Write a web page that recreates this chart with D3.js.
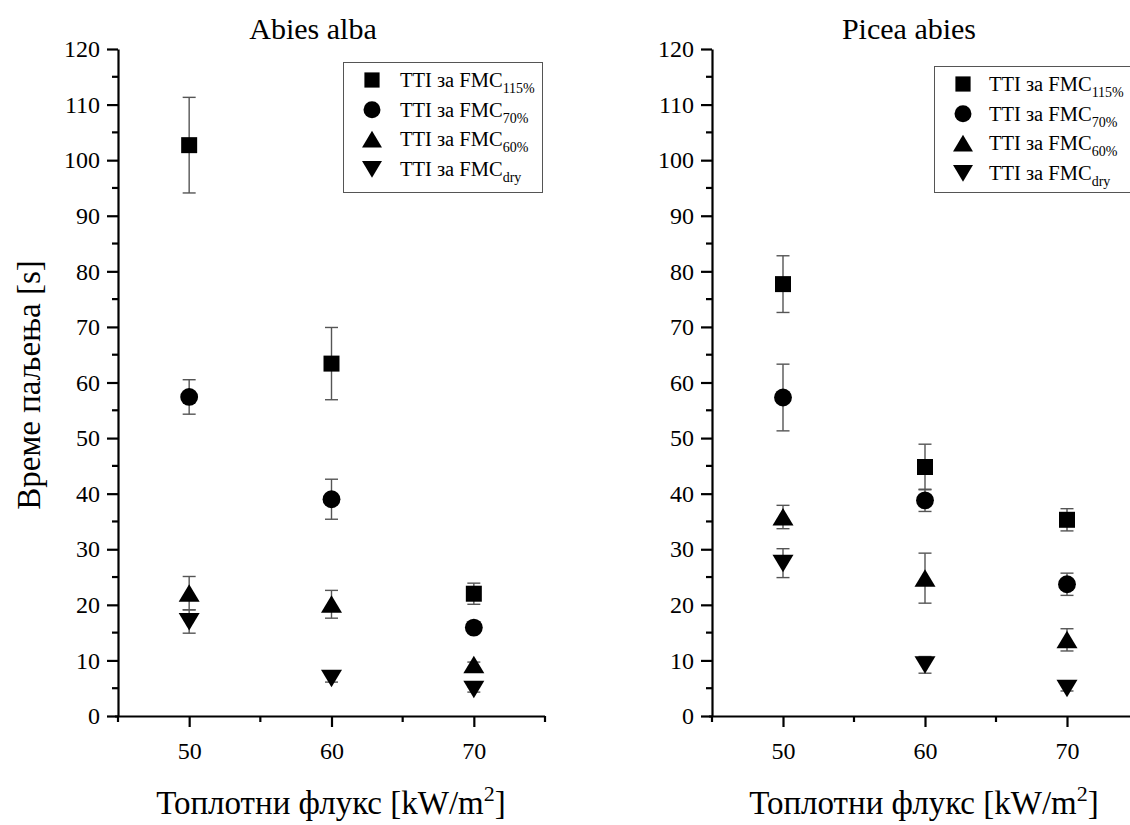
<!DOCTYPE html>
<html><head><meta charset="utf-8">
<script src="https://cdn.jsdelivr.net/npm/d3@7/dist/d3.min.js"></script>
<style>body{margin:0;background:#fff}svg{display:block}</style>
</head><body>
<svg id="c" width="1130" height="825"></svg>
<script>
// ---- data ----
const fluxes = [50, 60, 70];
const seriesNames = ["115%", "70%", "60%", "dry"];
const seriesSymbols = ["square", "circle", "triangle", "triangleDown"];
const yTicks = [0,10,20,30,40,50,60,70,80,90,100,110,120];
const xTicks = [50, 60, 70];
const xMinor = [45, 55, 65, 75];
const panelTitles = ["Abies alba", "Picea abies"];

// Abies alba
const abies115 = [102.7, 63.4, 22.0];
const abies115Err = [8.6, 6.5, 1.9];
const abies70 = [57.4, 39.0, 15.9];
const abies70Err = [3.1, 3.6, 0.3];
const abies60 = [22.1, 20.1, 9.2];
const abies60Err = [3.0, 2.5, 0.5];
const abiesDry = [17.0, 6.8, 4.8];
const abiesDryErr = [2.1, 0.7, 0.5];

// Picea abies
const picea115 = [77.7, 44.8, 35.3];
const picea115Err = [5.1, 4.1, 2.0];
const picea70 = [57.3, 38.8, 23.7];
const picea70Err = [6.0, 2.0, 2.0];
const picea60 = [35.8, 24.8, 13.7];
const picea60Err = [2.1, 4.5, 2.0];
const piceaDry = [27.5, 9.2, 5.0];
const piceaDryErr = [2.6, 1.5, 0.5];

const FONT = "Liberation Serif";

const panels = [
  {title: panelTitles[0], vals: [abies115, abies70, abies60, abiesDry], errs: [abies115Err, abies70Err, abies60Err, abiesDryErr],
   x0: 118, x1: 545, titleX: 313, xLabelX: 331, legend: {x: 343, y: 62, w: 199, h: 130, sx: 372, tx: 400}},
  {title: panelTitles[1], vals: [picea115, picea70, picea60, piceaDry], errs: [picea115Err, picea70Err, picea60Err, piceaDryErr],
   x0: 712, x1: 1138, titleX: 909, xLabelX: 924, legend: {x: 934, y: 66, w: 210, h: 126, sx: 963, tx: 989}}
];

const svg = d3.select("#c");
const yTop = 49, yBot = 716;
const y = d3.scaleLinear().domain([0, 120]).range([yBot, yTop]);

function symbolPath(kind) {
  if (kind === "square") return "M-8,-8H8V8H-8Z";
  if (kind === "circle") return d3.symbol(d3.symbolCircle, 250)();
  if (kind === "triangle") return "M0,-9L10.5,8.5L-10.5,8.5Z";
  return "M0,9L10.5,-8.5L-10.5,-8.5Z";
}

panels.forEach((p, pi) => {
  const x = d3.scaleLinear().domain([45, 75]).range([p.x0, p.x1]);
  const g = svg.append("g");

  // x axis
  const xa = g.append("g").attr("transform", `translate(0,${yBot})`)
    .call(d3.axisBottom(x).tickValues(xTicks).tickSize(11).tickPadding(15).tickSizeOuter(0));
  xa.attr("font-family", FONT).attr("font-size", 24);
  xa.select(".domain").attr("stroke-width", 2.2).attr("d", `M${p.x0-3},0.5H${p.x1}`);
  xa.selectAll(".tick line").attr("stroke-width", 2.2);
  xa.selectAll(".tick text").attr("fill", "#000").attr("font-family", FONT);
  g.append("g").attr("transform", `translate(0,${yBot})`).selectAll("line").data(xMinor).join("line")
    .attr("x1", d => x(d)).attr("x2", d => x(d)).attr("y1", 0).attr("y2", 6)
    .attr("stroke", "#000").attr("stroke-width", 2.2);

  // y axis
  const ya = g.append("g").attr("transform", `translate(${p.x0},0)`)
    .call(d3.axisLeft(y).tickValues(yTicks).tickSize(11).tickPadding(7).tickSizeOuter(0));
  ya.attr("font-family", FONT).attr("font-size", 24);
  ya.select(".domain").attr("stroke-width", 2.2);
  ya.selectAll(".tick line").attr("stroke-width", 2.2);
  ya.selectAll(".tick text").attr("fill", "#000").attr("font-family", FONT);
  const yMinor = d3.range(5, 120, 10);
  g.append("g").attr("transform", `translate(${p.x0},0)`).selectAll("line").data(yMinor).join("line")
    .attr("x1", -6).attr("x2", 0).attr("y1", d => y(d)).attr("y2", d => y(d))
    .attr("stroke", "#000").attr("stroke-width", 2.2);

  // title
  g.append("text").attr("x", p.titleX).attr("y", 39).attr("text-anchor", "middle")
    .attr("font-family", FONT).attr("font-size", 30).text(p.title);

  // x label
  const xl = g.append("text").attr("x", p.xLabelX).attr("y", 814).attr("text-anchor", "middle")
    .attr("font-family", FONT).attr("font-size", 33);
  xl.append("tspan").text("Топлотни флукс [kW/m");
  xl.append("tspan").attr("dy", -13).attr("font-size", 22).text("2");
  xl.append("tspan").attr("dy", 13).text("]");

  // data
  p.vals.forEach((vals, si) => {
    const errs = p.errs[si];
    const sg = g.append("g");
    const pts = fluxes.map((f, i) => ({f, v: vals[i], e: errs[i]}));
    const eb = sg.selectAll("g.eb").data(pts).join("g").attr("class", "eb");
    eb.append("line").attr("x1", d => x(d.f)).attr("x2", d => x(d.f))
      .attr("y1", d => y(d.v + d.e)).attr("y2", d => y(d.v - d.e))
      .attr("stroke", "#555").attr("stroke-width", 1.4);
    [1, -1].forEach(sgn => {
      eb.append("line").attr("x1", d => x(d.f) - 6.5).attr("x2", d => x(d.f) + 6.5)
        .attr("y1", d => y(d.v + sgn * d.e)).attr("y2", d => y(d.v + sgn * d.e))
        .attr("stroke", "#555").attr("stroke-width", 1.4);
    });
    sg.selectAll("path.m").data(pts).join("path").attr("class", "m")
      .attr("d", symbolPath(seriesSymbols[si]))
      .attr("transform", d => `translate(${x(d.f)},${y(d.v)})`)
      .attr("fill", "#000");
  });

  // legend
  const L = p.legend;
  const lg = g.append("g");
  lg.append("rect").attr("x", L.x + 0.5).attr("y", L.y + 0.5).attr("width", L.w).attr("height", L.h)
    .attr("fill", "#fff").attr("stroke", "#555").attr("stroke-width", 1);
  seriesNames.forEach((n, i) => {
    const cy = L.y + 18 + i * 29.7;
    lg.append("path").attr("d", symbolPath(seriesSymbols[i]))
      .attr("transform", `translate(${L.sx},${cy}) scale(0.95)`).attr("fill", "#000");
    const t = lg.append("text").attr("x", L.tx).attr("y", cy + 7)
      .attr("font-family", FONT).attr("font-size", 20.5);
    t.append("tspan").text("TTI за FMC");
    t.append("tspan").attr("dy", 6).attr("font-size", 14).text(n);
  });
});

// shared y label
svg.append("text").attr("transform", "translate(40,385) rotate(-90)")
  .attr("text-anchor", "middle").attr("font-family", FONT).attr("font-size", 33).text("Време паљења [s]");
</script>
</body></html>
